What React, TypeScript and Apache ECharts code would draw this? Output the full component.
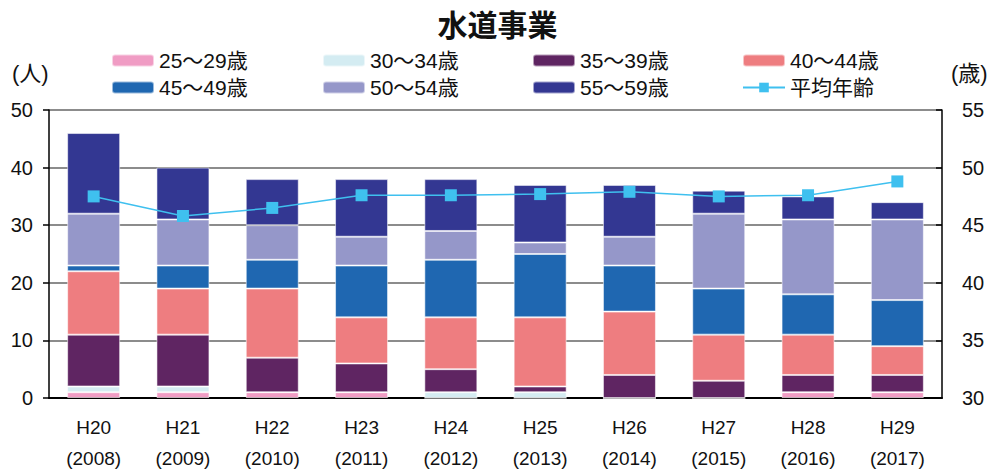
import React, { useEffect, useRef } from "react";
import * as echarts from "echarts";

// Headcount per age band (persons) and average age (years), FY H20–H29
const categories = [
  "H20\n(2008)",
  "H21\n(2009)",
  "H22\n(2010)",
  "H23\n(2011)",
  "H24\n(2012)",
  "H25\n(2013)",
  "H26\n(2014)",
  "H27\n(2015)",
  "H28\n(2016)",
  "H29\n(2017)",
];
const age25to29 = [1, 1, 1, 1, 0, 0, 0, 0, 1, 1];
const age30to34 = [1, 1, 0, 0, 1, 1, 0, 0, 0, 0];
const age35to39 = [9, 9, 6, 5, 4, 1, 4, 3, 3, 3];
const age40to44 = [11, 8, 12, 8, 9, 12, 11, 8, 7, 5];
const age45to49 = [1, 4, 5, 9, 10, 11, 8, 8, 7, 8];
const age50to54 = [9, 8, 6, 5, 5, 2, 5, 13, 13, 14];
const age55to59 = [14, 9, 8, 10, 9, 10, 9, 4, 4, 3];
const averageAge = [47.5, 45.8, 46.5, 47.6, 47.6, 47.7, 47.9, 47.5, 47.6, 48.8];

const bandNames = ["25～29歳", "30～34歳", "35～39歳", "40～44歳", "45～49歳", "50～54歳", "55～59歳"];
const bandValues = [age25to29, age30to34, age35to39, age40to44, age45to49, age50to54, age55to59];
const bandColors = ["#f09cc4", "#d4ecf2", "#5f2562", "#ee7d80", "#1f67b1", "#9597c9", "#333792"];
const avgName = "平均年齢";

const FONT = "'Liberation Sans', 'Noto Sans CJK JP', sans-serif";

export default function App() {
  const ref = useRef<HTMLDivElement>(null);

  useEffect(() => {
    if (!ref.current) return;
    const chart = echarts.init(ref.current, undefined, { renderer: "svg" });

    const barSeries = bandNames.map((name, i) => ({
      name,
      type: "bar",
      stack: "staff",
      yAxisIndex: 0,
      barWidth: 53,
      data: bandValues[i],
      itemStyle: {
        color: bandColors[i],
        borderColor: "rgba(255,255,255,0.55)",
        borderWidth: 1,
      },
    }));

    const legendText = { fontSize: 21, color: "#111", fontFamily: FONT, lineHeight: 20 };
    const legendColumns = [
      { left: 111, data: [bandNames[0], bandNames[4]] },
      { left: 322, data: [bandNames[1], bandNames[5]] },
      { left: 532, data: [bandNames[2], bandNames[6]] },
      { left: 742, data: [bandNames[3], avgName] },
    ].map((c) => ({
      left: c.left,
      top: 50,
      orient: "vertical",
      itemWidth: 42,
      itemHeight: 12,
      itemGap: 6,
      padding: 0,
      selectedMode: false,
      textStyle: legendText,
      data: c.data,
    }));

    chart.setOption({
      animation: false,
      textStyle: { fontFamily: FONT },
      title: {
        text: "水道事業",
        left: "center",
        top: 5,
        textStyle: { fontSize: 30, fontWeight: "bold", color: "#111", fontFamily: FONT },
      },
      legend: legendColumns,
      graphic: [
        {
          type: "text",
          left: 12,
          top: 62,
          style: { text: "(人)", fontSize: 22, fill: "#111", fontFamily: FONT },
        },
        {
          type: "text",
          left: 951,
          top: 62,
          style: { text: "(歳)", fontSize: 22, fill: "#111", fontFamily: FONT },
        },
      ],
      grid: { left: 49, right: 53, top: 110, bottom: 69 },
      xAxis: {
        type: "category",
        data: categories,
        axisLine: { lineStyle: { color: "#000", width: 2 } },
        axisTick: { inside: true, length: 5, lineStyle: { color: "#000", width: 1.5 } },
        axisLabel: {
          margin: 14,
          fontSize: 19,
          lineHeight: 31,
          color: "#111",
          fontFamily: FONT,
        },
      },
      yAxis: [
        {
          type: "value",
          min: 0,
          max: 50,
          interval: 10,
          axisLine: { show: true, lineStyle: { color: "#000", width: 1.5 } },
          axisTick: { show: true, length: 6, lineStyle: { color: "#000", width: 1.5 } },
          axisLabel: { margin: 16, fontSize: 20, color: "#111", fontFamily: FONT },
          splitLine: { lineStyle: { color: "#8c8c8c", width: 2 } },
        },
        {
          type: "value",
          min: 30,
          max: 55,
          interval: 5,
          position: "right",
          axisLine: { show: true, lineStyle: { color: "#000", width: 1.5 } },
          axisTick: { show: true, inside: true, length: 6, lineStyle: { color: "#000", width: 1.5 } },
          axisLabel: { margin: 20, fontSize: 20, color: "#111", fontFamily: FONT },
          splitLine: { show: false },
        },
      ],
      series: [
        ...barSeries,
        {
          name: avgName,
          type: "line",
          yAxisIndex: 1,
          data: averageAge,
          symbol: "rect",
          symbolSize: 12,
          z: 10,
          lineStyle: { color: "#3fc0ef", width: 1.5 },
          itemStyle: { color: "#3fc0ef" },
        },
      ],
    });

    return () => chart.dispose();
  }, []);

  return (
    <div
      ref={ref}
      style={{ position: "fixed", left: 0, top: 0, width: 995, height: 474, background: "#fff" }}
    />
  );
}
